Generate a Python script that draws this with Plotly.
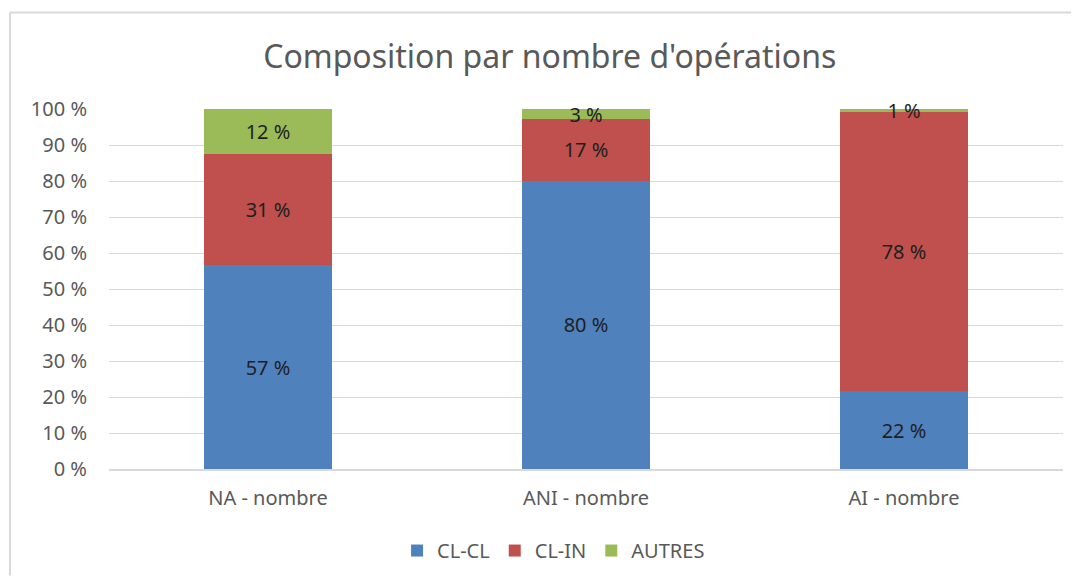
import plotly.graph_objects as go

# Data
categories = ["NA - nombre", "ANI - nombre", "AI - nombre"]
cl_cl = [56.6, 80.1, 21.6]
cl_in = [31.0, 17.1, 77.6]
autres = [12.4, 2.8, 0.8]
series_names = ["CL-CL", "CL-IN", "AUTRES"]
series_colors = ["#4F81BD", "#C0504D", "#9BBB59"]
tick_vals = [0, 10, 20, 30, 40, 50, 60, 70, 80, 90, 100]
tick_text = [f"{v} %" for v in tick_vals]

FONT = "Noto Sans, Open Sans, sans-serif"

fig = go.Figure()
for name, vals, color in zip(series_names, [cl_cl, cl_in, autres], series_colors):
    fig.add_trace(go.Bar(
        name=name, x=categories, y=vals,
        marker=dict(color=color, line=dict(width=0)),
        texttemplate="%{y:.0f} %", textposition="inside",
        insidetextanchor="middle", textangle=0, constraintext="none",
        cliponaxis=False,
        textfont=dict(family=FONT, size=20, color="#1f1f1f"),
    ))

# page body has an 8px margin: figure + margins = window size
fig.update_layout(
    barmode="stack", bargap=0.6,
    width=1063, height=570,
    margin=dict(l=101, r=8, t=101, b=107),
    paper_bgcolor="white", plot_bgcolor="white",
    font=dict(family=FONT, color="#595959"),
    title=dict(text="Composition par nombre d'opérations",
               xref="paper", x=0.462, xanchor="center",
               y=0.914, yanchor="middle",
               font=dict(family=FONT, size=32, color="#595959")),
    legend=dict(orientation="h", x=0.466, xanchor="center",
                y=-0.2265, yanchor="middle",
                font=dict(family=FONT, size=20, color="#595959"),
                traceorder="normal"),
    showlegend=True,
)
fig.update_yaxes(range=[0, 100], tickvals=tick_vals, ticktext=tick_text,
                 showgrid=True, gridcolor="#D9D9D9", gridwidth=1.3,
                 zeroline=False, showline=False, ticks="",
                 ticklabelstandoff=21,
                 tickfont=dict(family=FONT, size=20, color="#595959"))
fig.update_xaxes(showline=True, linecolor="#D9D9D9", linewidth=1.5,
                 ticks="", ticklabelstandoff=10,
                 tickfont=dict(family=FONT, size=20, color="#595959"))

# outer chart border: only top and left edges are visible in the crop
border = dict(color="#D9D9D9", width=2)
fig.add_shape(type="line", xref="paper", yref="paper",
              x0=-0.1038, x1=1.0084, y0=1.268, y1=1.268, line=border)
fig.add_shape(type="line", xref="paper", yref="paper",
              x0=-0.1038, x1=-0.1038, y0=-0.2956, y1=1.268, line=border)

fig.write_html("out.html")
